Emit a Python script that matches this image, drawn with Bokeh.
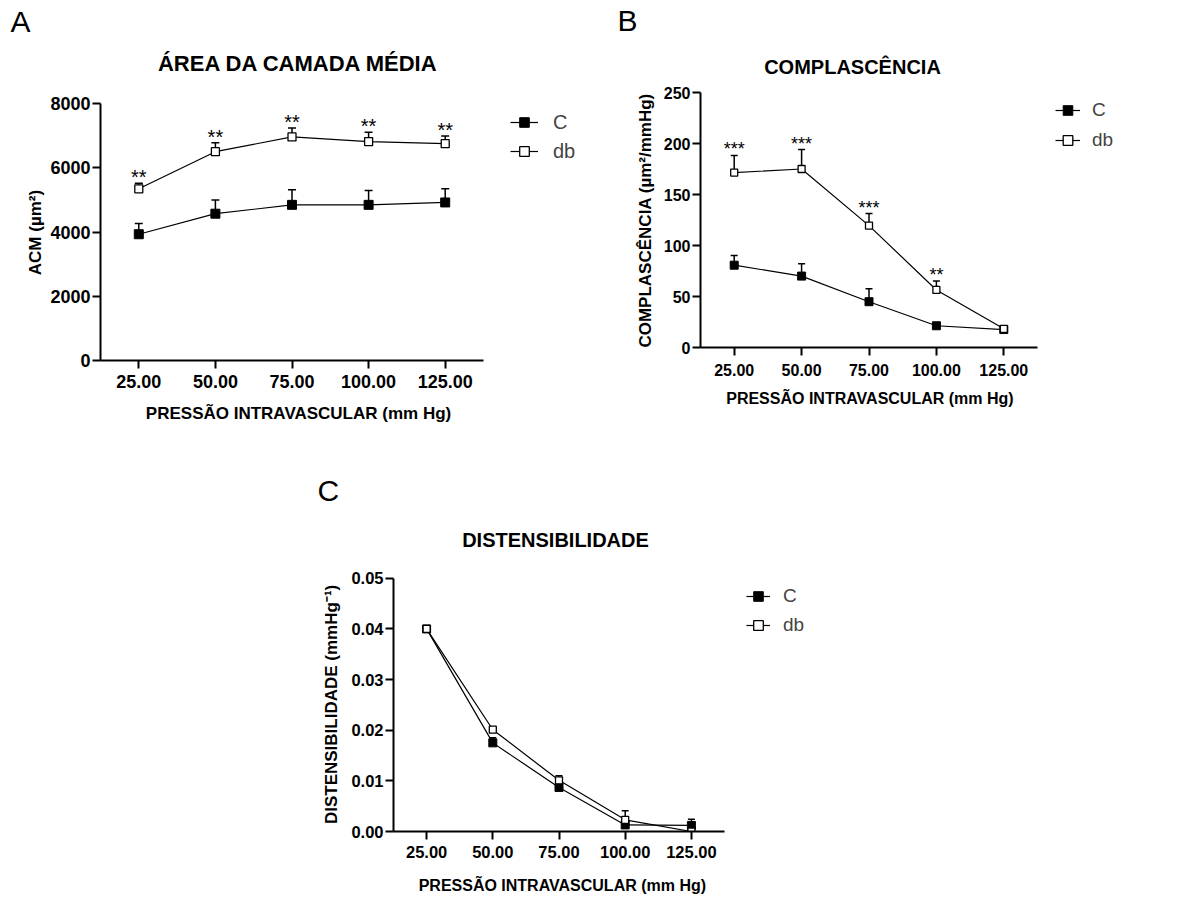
from bokeh.plotting import figure
from bokeh.models import (Legend, LegendItem, FixedTicker, Spacer, ColumnDataSource, Range1d,
                          Title, Label)
from bokeh.layouts import row, column
from bokeh.embed import file_html
from bokeh.resources import INLINE
from bokeh.core.properties import value

# ---------------- data ----------------
pressure = [25, 50, 75, 100, 125]
x_tick_labels = ["25.00", "50.00", "75.00", "100.00", "125.00"]
x_label = "PRESSÃO INTRAVASCULAR (mm Hg)"
series_names = ["C", "db"]

# A: Área da camada média
acm_c = [3930, 4570, 4845, 4845, 4920]
acm_c_err = [335, 425, 470, 445, 425]
acm_db = [5345, 6500, 6960, 6815, 6750]
acm_db_err = [170, 280, 280, 290, 240]
acm_sig = ["**", "**", "**", "**", "**"]
acm_yticks = [0, 2000, 4000, 6000, 8000]
acm_ytick_labels = ["0", "2000", "4000", "6000", "8000"]

# B: Complascência
comp_c = [80.7, 70.0, 44.9, 21.3, 17.6]
comp_c_err = [9.4, 12.0, 12.7, 0, 0]
comp_db = [171.5, 175.0, 119.5, 56.4, 18.3]
comp_db_err = [16.8, 19.0, 11.8, 8.7, 0]
comp_sig = ["***", "***", "***", "**", ""]
comp_yticks = [0, 50, 100, 150, 200, 250]
comp_ytick_labels = ["0", "50", "100", "150", "200", "250"]

# C: Distensibilidade
dist_c = [0.0400, 0.0175, 0.0087, 0.0013, 0.0012]
dist_c_err = [0.0, 0.0010, 0.0005, 0.0, 0.0012]
dist_db = [0.0400, 0.0201, 0.0101, 0.0023, 0.0000]
dist_db_err = [0.0, 0.0004, 0.0009, 0.0018, 0.0]
dist_sig = ["", "", "", "", ""]
dist_yticks = [0, 0.01, 0.02, 0.03, 0.04, 0.05]
dist_ytick_labels = ["0.00", "0.01", "0.02", "0.03", "0.04", "0.05"]

FONT = "Liberation Sans"
X_START, X_STOP = 12.5, 137.5
NBSP = "\u00a0"


def panel(cfg):
    W, H, L, T, B = cfg["width"], cfg["height"], cfg["L"], cfg["T"], cfg["B"]
    ymax = cfg["yticks"][-1]
    frame_w, frame_h = W - L, H - T - B
    xs_px = (cfg["axis_right"] - L) / (X_STOP - X_START)      # px per x unit
    ys_px = (H - B - cfg["axis_top"]) / ymax                  # px per y unit
    x_end = X_START + frame_w / xs_px
    y_end = frame_h / ys_px

    def dx(px):
        return X_START + (px - L) / xs_px

    def dy(py):
        return (H - B - py) / ys_px

    p = figure(width=W, height=H, output_backend="svg", toolbar_location=None, tools="",
               title=None, x_range=Range1d(X_START, x_end), y_range=Range1d(0, y_end),
               min_border_left=L, min_border_right=0, min_border_top=T, min_border_bottom=B)
    p.frame_align = False
    p.outline_line_color = None
    p.grid.visible = False
    p.background_fill_color = "white"
    p.border_fill_color = "white"

    for ax in (p.xaxis[0], p.yaxis[0]):
        ax.axis_line_width = 2
        ax.axis_line_color = "black"
        ax.major_tick_line_width = 2
        ax.major_tick_line_color = "black"
        ax.major_tick_out = 8
        ax.major_tick_in = 0
        ax.minor_tick_line_color = None
        ax.major_label_text_font = FONT
        ax.major_label_text_font_style = "bold"
        ax.major_label_text_color = "black"
        ax.axis_label_text_font = FONT
        ax.axis_label_text_font_style = "bold"
        ax.axis_label_text_color = "black"
    p.xaxis.bounds = (X_START, X_STOP)
    p.yaxis.bounds = (0, ymax)
    p.xaxis.ticker = FixedTicker(ticks=pressure)
    p.xaxis.major_label_overrides = {v: s for v, s in zip(pressure, x_tick_labels)}
    p.yaxis.ticker = FixedTicker(ticks=cfg["yticks"])
    p.yaxis.major_label_overrides = {v: s for v, s in zip(cfg["yticks"], cfg["yticklabels"])}
    p.xaxis.major_label_text_font_size = cfg["tick_fs"]
    p.yaxis.major_label_text_font_size = cfg["tick_fs"]
    p.xaxis.major_label_standoff = cfg["xtick_so"]
    p.yaxis.major_label_standoff = 2
    # axis labels are centred on the (wider) frame; pad them so they centre on the axis span
    p.xaxis.axis_label = x_label + NBSP * cfg["xlab_pad"]
    p.yaxis.axis_label = cfg["ylabel"] + NBSP * cfg["ylab_pad"]
    p.xaxis.axis_label_text_font_size = cfg["xlab_fs"]
    p.yaxis.axis_label_text_font_size = cfg["ylab_fs"]
    p.xaxis.axis_label_standoff = cfg["xlab_so"]
    p.yaxis.axis_label_standoff = cfg["ylab_so"]

    # error bars (upper only)
    for vals, errs in ((cfg["c"], cfg["c_err"]), (cfg["db"], cfg["db_err"])):
        xs = [x for x, e in zip(pressure, errs) if e > 0]
        y0 = [v for v, e in zip(vals, errs) if e > 0]
        y1 = [v + e for v, e in zip(vals, errs) if e > 0]
        src = ColumnDataSource(dict(x=xs, y0=y0, y1=y1))
        p.segment(x0="x", y0="y0", x1="x", y1="y1", source=src, line_color="black", line_width=1.5)
        p.scatter(x="x", y="y1", source=src, marker="dash", size=cfg["cap"], line_color="black", line_width=1.5)

    src_c = ColumnDataSource(dict(x=pressure, y=cfg["c"]))
    src_db = ColumnDataSource(dict(x=pressure, y=cfg["db"]))
    l_c = p.line("x", "y", source=src_c, line_color="black", line_width=1.2)
    l_db = p.line("x", "y", source=src_db, line_color="black", line_width=1.2)
    m_c = p.scatter("x", "y", source=src_c, marker="square", size=cfg["ms"],
                    fill_color="black", line_color="black", line_width=1)
    m_db = p.scatter("x", "y", source=src_db, marker="square", size=cfg["ms"] - 1,
                     fill_color="white", line_color="black", line_width=1.3)

    # significance marks
    sx = [x for x, s in zip(pressure, cfg["sig"]) if s]
    sy = [v + e for v, e, s in zip(cfg["db"], cfg["db_err"], cfg["sig"]) if s]
    st = [s for s in cfg["sig"] if s]
    if st:
        p.text(x=sx, y=sy, text=st, text_align="center", text_baseline="middle",
               text_font=value(FONT), text_font_size=cfg["sig_fs"], text_color="black", y_offset=-6)

    legend = Legend(items=[LegendItem(label=series_names[0], renderers=[l_c, m_c]),
                           LegendItem(label=series_names[1], renderers=[l_db, m_db])],
                    location=cfg["leg_loc"], padding=0, margin=0, spacing=cfg["leg_sp"],
                    glyph_width=cfg["leg_gw"], glyph_height=24, label_height=24,
                    label_standoff=cfg["leg_so"], label_text_font=FONT,
                    label_text_font_size=cfg["leg_fs"], border_line_color=None,
                    background_fill_alpha=0)
    p.add_layout(legend)

    tx, ty = cfg["title_pos"]
    p.add_layout(Label(x=dx(tx), y=dy(ty), text=cfg["title"], text_align="center",
                       text_baseline="alphabetic", text_font=FONT, text_font_style="bold",
                       text_font_size=cfg["title_fs"], text_color="black"))

    letter = Title(text=cfg["letter"], align="left", offset=cfg["let_x"] - L,
                   standoff=cfg["let_so"], text_font=FONT, text_font_style="normal",
                   text_font_size="30px", text_color="black")
    p.add_layout(letter, "above")
    return p


pA = panel(dict(width=600, height=430, L=100, T=38, B=70, axis_right=483, axis_top=103,
                yticks=acm_yticks, yticklabels=acm_ytick_labels, tick_fs="18px", xtick_so=6,
                ylabel="ACM (µm²)", xlab_fs="17px", ylab_fs="17px", xlab_so=13, ylab_so=2,
                xlab_pad=22, ylab_pad=14,
                c=acm_c, c_err=acm_c_err, db=acm_db, db_err=acm_db_err, sig=acm_sig,
                cap=8, ms=9, sig_fs="20px", leg_loc=(410, 197), leg_sp=5, leg_gw=28, leg_so=15,
                leg_fs="20px", title="ÁREA DA CAMADA MÉDIA", title_pos=(298, 63),
                title_fs="22px", letter="A", let_x=10, let_so=1))

pB = panel(dict(width=590, height=430, L=100, T=36, B=83, axis_right=437, axis_top=92,
                yticks=comp_yticks, yticklabels=comp_ytick_labels, tick_fs="16px", xtick_so=8,
                ylabel="COMPLASCÊNCIA (µm²/mmHg)", xlab_fs="16px", ylab_fs="17px",
                xlab_so=11, ylab_so=6, xlab_pad=34, ylab_pad=12,
                c=comp_c, c_err=comp_c_err, db=comp_db, db_err=comp_db_err, sig=comp_sig,
                cap=7, ms=8, sig_fs="18px", leg_loc=(355, 195), leg_sp=6, leg_gw=25, leg_so=12,
                leg_fs="19px", title="COMPLASCÊNCIA", title_pos=(252, 66),
                title_fs="20px", letter="B", let_x=17, let_so=0))

pC = panel(dict(width=580, height=426, L=100, T=36, B=64, axis_right=431, axis_top=108,
                yticks=dist_yticks, yticklabels=dist_ytick_labels, tick_fs="16.5px", xtick_so=6,
                ylabel="DISTENSIBILIDADE (mmHg⁻¹)", xlab_fs="16px", ylab_fs="17px",
                xlab_so=16, ylab_so=7, xlab_pad=32, ylab_pad=15,
                c=dist_c, c_err=dist_c_err, db=dist_db, db_err=dist_db_err, sig=dist_sig,
                cap=7, ms=8, sig_fs="18px", leg_loc=(353, 194), leg_sp=5, leg_gw=24, leg_so=13,
                leg_fs="19px", title="DISTENSIBILIDADE", title_pos=(262, 70),
                title_fs="20px", letter="C", let_x=24, let_so=0))

layout = column(row(pA, pB),
                row(Spacer(width=293, height=466), column(Spacer(width=580, height=40), pC)))

open("out.html", "w").write(file_html(layout, INLINE))
